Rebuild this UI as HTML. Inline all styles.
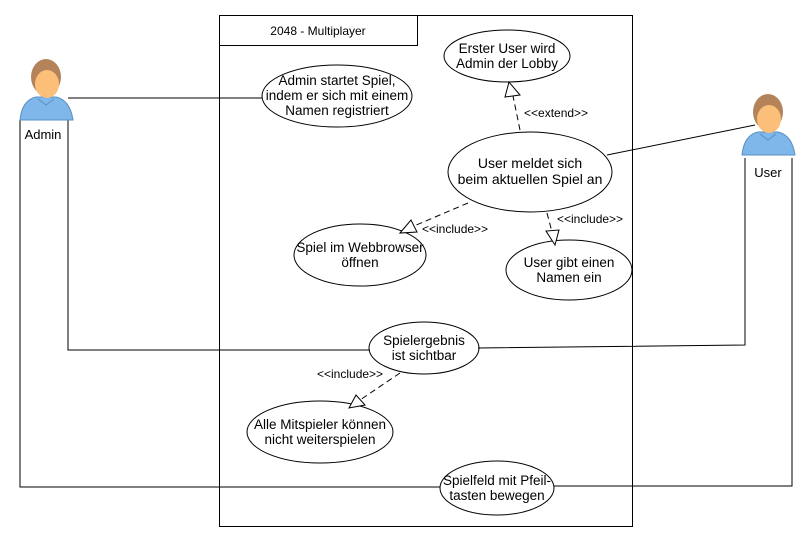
<!DOCTYPE html>
<html><head><meta charset="utf-8"><style>body{margin:0;background:#fff}svg{display:block}text{font-family:"Liberation Sans",sans-serif;font-size:13.5px;fill:#000}</style></head><body>
<svg width="812" height="541" viewBox="0 0 812 541" xmlns="http://www.w3.org/2000/svg">
<defs>
<g id="actor">
<path d="M2,65 Q4,45 18,42 L38,42 Q52,45 55,65 Z" fill="#7fb7ea" stroke="#5a8fc4" stroke-width="1"/>
<ellipse cx="28" cy="22" rx="15" ry="18" fill="#b5835a"/>
<ellipse cx="29" cy="29" rx="12" ry="14" fill="#fbbf7a"/>
<path d="M20,44 L28,50 L36,44" fill="none" stroke="#5a8fc4"/>
</g>
</defs>
<g fill="none" stroke="#000" stroke-width="1">
<rect x="219.5" y="15.5" width="413" height="511"/>
<rect x="219.5" y="15.5" width="198" height="30"/>
<polyline points="68,98 262,98"/>
<polyline points="68,120 68,350 370,350"/>
<polyline points="20,120 20,487 440,487"/>
<polyline points="755,125 607,155"/>
<polyline points="745,158 745,345 478,348"/>
<polyline points="792,158 792,486 554,486"/>
<ellipse cx="507" cy="56" rx="63" ry="26"/>
<ellipse cx="337" cy="96" rx="75" ry="31"/>
<ellipse cx="530" cy="172" rx="82" ry="40"/>
<ellipse cx="360" cy="255" rx="66" ry="31"/>
<ellipse cx="569" cy="270" rx="63" ry="30"/>
<ellipse cx="424" cy="348" rx="55" ry="26"/>
<ellipse cx="320" cy="432" rx="73" ry="31"/>
<ellipse cx="497" cy="488" rx="57" ry="27"/>
<g stroke-dasharray="6,4">
<line x1="520" y1="130" x2="513" y2="96"/>
<line x1="468" y1="203" x2="414" y2="226"/>
<line x1="547" y1="213" x2="552" y2="232"/>
<line x1="400" y1="373" x2="360" y2="400"/>
</g>
<polygon points="509,82 505,97 520,95" fill="#fff"/>
<polygon points="400,233 411,220 417,232" fill="#fff"/>
<polygon points="555,245 546,231 559,230" fill="#fff"/>
<polygon points="349,408 356,395 365,405" fill="#fff"/>
</g>
<use href="#actor" x="18" y="55"/>
<use href="#actor" x="740" y="90"/>
<text x="318" y="35" text-anchor="middle" style="font-size:12px">2048 - Multiplayer</text>
<text x="43" y="139" text-anchor="middle" style="font-size:13px">Admin</text>
<text x="768" y="177" text-anchor="middle" style="font-size:13px">User</text>
<g text-anchor="middle">
<text x="507" y="53">Erster User wird</text><text x="507" y="68">Admin der Lobby</text>
<text x="337" y="85">Admin startet Spiel,</text><text x="337" y="100">indem er sich mit einem</text><text x="337" y="115">Namen registriert</text>
<text x="530" y="168" style="font-size:14px">User meldet sich</text><text x="530" y="184" style="font-size:14px">beim aktuellen Spiel an</text>
<text x="360" y="252">Spiel im Webbrowser</text><text x="360" y="267">öffnen</text>
<text x="569" y="267">User gibt einen</text><text x="569" y="282">Namen ein</text>
<text x="424" y="345">Spielergebnis</text><text x="424" y="360">ist sichtbar</text>
<text x="320" y="429">Alle Mitspieler können</text><text x="320" y="444">nicht weiterspielen</text>
<text x="497" y="485">Spielfeld mit Pfeil-</text><text x="497" y="500">tasten bewegen</text>
</g>
<text x="524" y="117" style="font-size:12px">&lt;&lt;extend&gt;&gt;</text>
<text x="422" y="233" style="font-size:12px">&lt;&lt;include&gt;&gt;</text>
<text x="557" y="223" style="font-size:12px">&lt;&lt;include&gt;&gt;</text>
<text x="317" y="378" style="font-size:12px">&lt;&lt;include&gt;&gt;</text>
</svg>
</body></html>
